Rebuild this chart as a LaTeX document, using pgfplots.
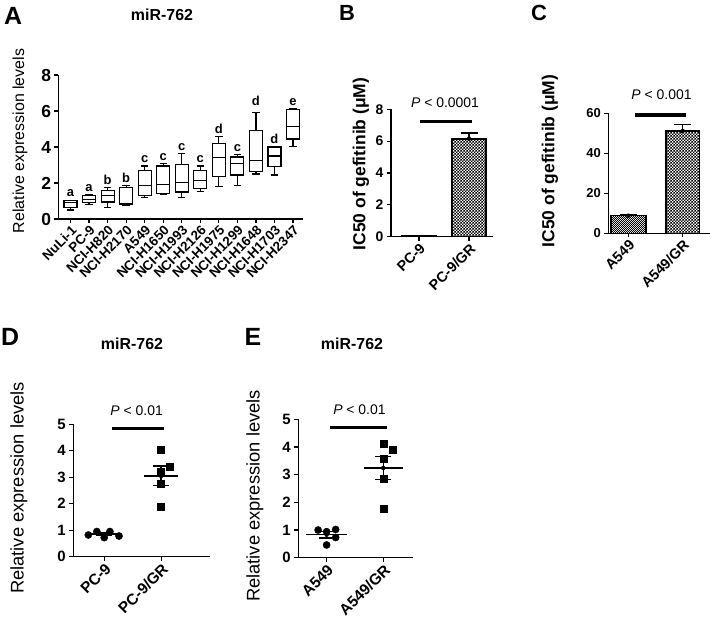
\documentclass[border=0pt]{standalone}
\usepackage{fontspec}
\setmainfont{Liberation Sans}
\usepackage{pgfplots}
\pgfplotsset{compat=1.18}
\usepgfplotslibrary{statistics}
\usetikzlibrary{patterns}

% checker fills of the bars
\pgfdeclarepatternformonly{checkA}{\pgfpointorigin}{\pgfqpoint{3.4pt}{3.4pt}}{\pgfqpoint{3.4pt}{3.4pt}}{%
  \pgfpathrectangle{\pgfpointorigin}{\pgfqpoint{1.7pt}{1.7pt}}%
  \pgfpathrectangle{\pgfqpoint{1.7pt}{1.7pt}}{\pgfqpoint{1.7pt}{1.7pt}}%
  \pgfusepath{fill}}
\pgfdeclarepatternformonly{checkB}{\pgfpointorigin}{\pgfqpoint{2.4pt}{2.4pt}}{\pgfqpoint{2.4pt}{2.4pt}}{%
  \pgfpathrectangle{\pgfpointorigin}{\pgfqpoint{1.2pt}{1.2pt}}%
  \pgfpathrectangle{\pgfqpoint{1.2pt}{1.2pt}}{\pgfqpoint{1.2pt}{1.2pt}}%
  \pgfusepath{fill}}

\newcommand{\fs}[1]{\fontsize{#1}{#1}\selectfont}

\tikzset{letter/.style={anchor=south, inner sep=1pt, font=\bfseries\fs{13}}}

\pgfplotsset{
  panel/.style={
    scale only axis, anchor=south west, clip=false,
    axis lines=left, axis line style={-, line width=1.4pt},
    tick align=outside, major tick length=4bp,
    tick style={line width=1.2pt, black},
    ymin=0,
    /pgf/number format/assume math mode=true,
    x tick label style={rotate=45, anchor=north east, inner sep=1pt},
  },
  meanbar/.style={only marks, mark=none, black,
    error bars/.cd, y dir=both, y explicit,
    error bar style={line width=1.5pt},
    error mark options={rotate=90, line width=1.5pt, mark size=8bp}},
  topbar/.style={only marks, mark=none, black,
    error bars/.cd, y dir=plus, y explicit,
    error bar style={line width=1.5pt},
    error mark options={rotate=90, line width=1.5pt, mark size=8.5bp}},
}

% one box: position, lower whisker, lower quartile, median, upper quartile, upper whisker
\newcommand{\bx}[6]{\addplot[black, solid, line width=1.2pt,
  boxplot prepared={draw position=#1, lower whisker=#2, lower quartile=#3,
  median=#4, upper quartile=#5, upper whisker=#6}] coordinates {};}

\begin{document}
\begin{tikzpicture}
\useasboundingbox (0,0) rectangle (710bp,-619bp);
\fill[white] (0,0) rectangle (710bp,-619bp);

% ---------------- A
\begin{axis}[panel, at={(58.5bp,-219bp)}, width=244.5bp, height=144bp,
  xmin=-0.65, xmax=12.54, ymax=8, ytick={0,2,4,6,8},
  xtick={0,...,12},
  xticklabels={NuLi-1,PC-9,NCI-H820,NCI-H2170,A549,NCI-H1650,NCI-H1993,NCI-H2126,NCI-H1975,NCI-H1299,NCI-H1648,NCI-H1703,NCI-H2347},
  x tick label style={font=\bfseries\fs{13.5}},
  y tick label style={font=\bfseries\fs{17.5}},
  boxplot/draw direction=y, boxplot/box extend=0.7, boxplot/whisker extend=0.4]
\bx{0}{0.50}{0.65}{0.90}{1.05}{1.05}
\bx{1}{0.80}{0.90}{1.10}{1.30}{1.35}
\bx{2}{0.65}{0.95}{1.30}{1.60}{1.75}
\bx{3}{0.75}{0.80}{0.85}{1.75}{1.85}
\bx{4}{1.20}{1.30}{1.85}{2.70}{2.95}
\bx{5}{1.35}{1.40}{1.90}{2.95}{3.10}
\bx{6}{1.20}{1.50}{2.05}{3.05}{3.65}
\bx{7}{1.55}{1.70}{2.15}{2.70}{2.95}
\bx{8}{1.80}{2.35}{3.40}{4.20}{4.60}
\bx{9}{1.85}{2.45}{3.10}{3.45}{3.60}
\bx{10}{2.50}{2.65}{3.25}{4.90}{5.90}
\bx{11}{2.45}{2.90}{3.50}{4.00}{4.00}
\bx{12}{4.05}{4.45}{5.15}{6.10}{6.15}
\node[letter] at (axis cs:0,1.15) {a};
\node[letter] at (axis cs:1,1.45) {a};
\node[letter] at (axis cs:2,1.85) {b};
\node[letter] at (axis cs:3,1.95) {b};
\node[letter] at (axis cs:4,3.05) {c};
\node[letter] at (axis cs:5,3.20) {c};
\node[letter] at (axis cs:6,3.75) {c};
\node[letter] at (axis cs:7,3.05) {c};
\node[letter] at (axis cs:8,4.70) {d};
\node[letter] at (axis cs:9,3.70) {c};
\node[letter] at (axis cs:10,6.25) {d};
\node[letter] at (axis cs:11,4.10) {d};
\node[letter] at (axis cs:12,6.25) {e};
\end{axis}

% ---------------- B
\begin{axis}[panel, at={(391bp,-236.7bp)}, width=102bp, height=127.4bp,
  xmin=-0.56, xmax=1.48, ymax=8, ytick={0,2,4,6,8},
  xtick={0,1}, xticklabels={PC-9,PC-9/GR},
  x tick label style={font=\bfseries\fs{14.5}},
  y tick label style={font=\bfseries\fs{14}}]
\addplot[ybar, bar width=34bp, draw=black, line width=1.5pt, fill=white] coordinates {(0,0.06)};
\addplot[ybar, bar width=34bp, draw=black, line width=1.5pt, pattern=checkA] coordinates {(1,6.15)};
\addplot[topbar] coordinates {(1,6.15) +- (0,0.35)};
\addplot[black, line width=3.5bp] coordinates {(0.02,7.23) (1.05,7.23)};
\node[font=\fs{14}] at (axis cs:0.52,8.39) {\textit{P} < 0.0001};
\end{axis}

% ---------------- C
\begin{axis}[panel, at={(608.3bp,-233.3bp)}, width=101.5bp, height=120bp,
  xmin=-0.37, xmax=1.5, ymax=60, ytick={0,20,40,60},
  xtick={0,1}, xticklabels={A549,A549/GR},
  x tick label style={font=\bfseries\fs{14.5}},
  y tick label style={font=\bfseries\fs{13}}]
\addplot[ybar, bar width=35bp, draw=black, line width=1.5pt, pattern=checkB] coordinates {(0,8.8)};
\addplot[ybar, bar width=33.5bp, draw=black, line width=1.5pt, pattern=checkA] coordinates {(1,51.15)};
\addplot[topbar] coordinates {(0,8.8) +- (0,0.4)};
\addplot[topbar] coordinates {(1,51.15) +- (0,3.35)};
\addplot[black, line width=3.5bp] coordinates {(0.12,59.2) (1.07,59.2)};
\node[font=\fs{14}] at (axis cs:0.61,69.2) {\textit{P} < 0.001};
\end{axis}

% ---------------- D
\begin{axis}[panel, at={(73.3bp,-556.7bp)}, width=136.7bp, height=132.4bp,
  xmin=-0.544, xmax=1.86, ymax=5, ytick={0,1,2,3,4,5},
  xtick={0,1}, xticklabels={PC-9,PC-9/GR},
  x tick label style={font=\bfseries\fs{15.5}},
  y tick label style={font=\bfseries\fs{15}}]
\addplot[only marks, mark=*, mark size=3.6bp, black] coordinates {
  (-0.28,0.82) (-0.13,0.95) (0.10,0.95) (0.26,0.78) (0.0,0.72)};
\addplot[only marks, mark=square*, mark size=3.5bp, black] coordinates {
  (1,4.05) (1.16,3.40) (1,3.20) (1,2.75) (1,1.88)};
\addplot[black, line width=1.5pt] coordinates {(-0.32,0.85) (0.32,0.85)};
\addplot[meanbar] coordinates {(0,0.85) +- (0,0.05)};
\addplot[black, line width=1.5pt] coordinates {(0.70,3.05) (1.30,3.05)};
\addplot[meanbar] coordinates {(1,3.05) +- (0,0.37)};
\addplot[black, line width=3bp] coordinates {(0.13,4.86) (1.05,4.86)};
\node[font=\fs{14}] at (axis cs:0.57,5.53) {\textit{P} < 0.01};
\end{axis}

% ---------------- E
\begin{axis}[panel, at={(298.3bp,-557.7bp)}, width=114.4bp, height=138.4bp,
  xmin=-0.50, xmax=1.52, ymax=5, ytick={0,1,2,3,4,5},
  xtick={0,1}, xticklabels={A549,A549/GR},
  x tick label style={font=\bfseries\fs{15.5}},
  y tick label style={font=\bfseries\fs{15}}]
\addplot[only marks, mark=*, mark size=3.6bp, black] coordinates {
  (-0.15,1.00) (0,0.94) (0.16,1.02) (0.16,0.73) (0,0.46)};
\addplot[only marks, mark=square*, mark size=3.5bp, black] coordinates {
  (1,4.13) (1.17,3.89) (1,3.57) (1,2.84) (1,1.78)};
\addplot[black, line width=1.5pt] coordinates {(-0.36,0.83) (0.36,0.83)};
\addplot[meanbar] coordinates {(0,0.83) +- (0,0.11)};
\addplot[black, line width=1.5pt] coordinates {(0.66,3.24) (1.34,3.24)};
\addplot[meanbar] coordinates {(1,3.24) +- (0,0.42)};
\addplot[black, line width=3bp] coordinates {(0.06,4.71) (1.06,4.71)};
\node[font=\fs{14}] at (axis cs:0.58,5.34) {\textit{P} < 0.01};
\end{axis}

% ---------------- labels, titles, panel letters
\node[rotate=90, font=\fs{16}] at (20bp,-141bp) {Relative expression levels};
\node[rotate=90, font=\bfseries\fs{17.5}] at (361bp,-164bp) {IC50 of gefitinib (μM)};
\node[rotate=90, font=\bfseries\fs{17.5}] at (550bp,-161bp) {IC50 of gefitinib (μM)};
\node[rotate=90, font=\fs{18.4}] at (19bp,-488bp) {Relative expression levels};
\node[rotate=90, font=\fs{18.4}] at (255bp,-496bp) {Relative expression levels};

\node[font=\bfseries\fs{16}] at (162bp,-15bp) {miR-762};
\node[font=\bfseries\fs{16}] at (132bp,-344bp) {miR-762};
\node[font=\bfseries\fs{16}] at (352bp,-344bp) {miR-762};

\node[font=\bfseries\fs{25}] at (13bp,-16bp) {A};
\node[font=\bfseries\fs{22}] at (347bp,-13bp) {B};
\node[font=\bfseries\fs{22}] at (539bp,-13bp) {C};
\node[font=\bfseries\fs{25}] at (10bp,-337bp) {D};
\node[font=\bfseries\fs{25}] at (253bp,-337bp) {E};
\end{tikzpicture}
\end{document}
